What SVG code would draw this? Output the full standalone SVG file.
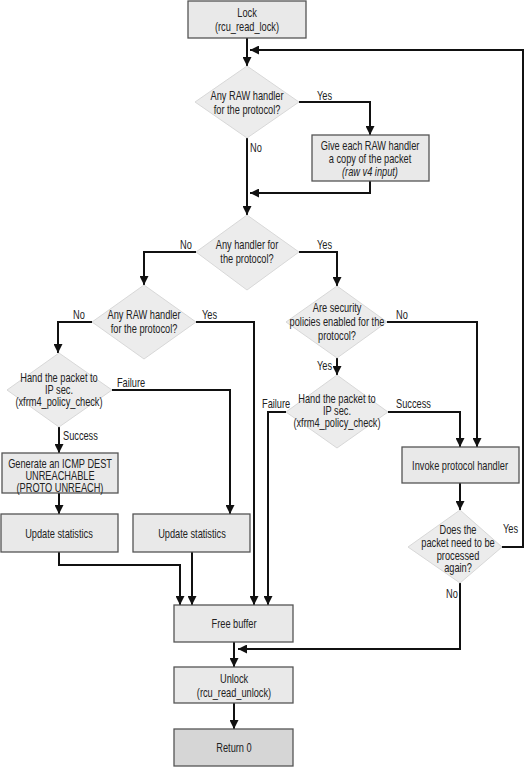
<svg xmlns="http://www.w3.org/2000/svg" width="528" height="768" viewBox="0 0 528 768">
<defs>
<marker id="ah" viewBox="0 0 10 10" refX="10" refY="5" markerWidth="9" markerHeight="9" markerUnits="userSpaceOnUse" orient="auto">
<path d="M0,0 L10,5 L0,10 z" fill="#111"/>
</marker>
<style>
text{font-family:"Liberation Sans",Arial,sans-serif;font-size:12px;fill:#222;text-anchor:middle;transform-box:fill-box;transform-origin:center;transform:scaleX(0.77)}
text.lbl{text-anchor:start;transform-origin:left}
.box{fill:#e9e9e9;stroke:#555;stroke-width:1.3}
.dk{fill:#d6d6d6}
.dia{fill:#ececec;stroke:#d8d8d8;stroke-width:1}
.c{fill:none;stroke:#111;stroke-width:2}
.a{marker-end:url(#ah)}
</style>
</defs>
<rect width="528" height="768" fill="#fff"/>
<g id="connectors">
<path class="c a" d="M247,38 V66"/>
<path class="c a" d="M502,547 H523 V50 H250"/>
<path class="c a" d="M299,102 H370 V135"/>
<path class="c a" d="M247,138 V215"/>
<path class="c a" d="M370,181 V193 H250"/>
<path class="c a" d="M196,252 H144 V285"/>
<path class="c a" d="M299,252 H337 V286"/>
<path class="c a" d="M387,322 H477 V447"/>
<path class="c a" d="M337,358 V375"/>
<path class="c a" d="M92,322 H58 V353"/>
<path class="c a" d="M196,322 H254 V605"/>
<path class="c a" d="M112,390 H230 V514"/>
<path class="c a" d="M59,427 V453"/>
<path class="c a" d="M59,493 V514"/>
<path class="c a" d="M59,552 V565 H180 V605"/>
<path class="c a" d="M192,552 V605"/>
<path class="c a" d="M286,412 H268 V605"/>
<path class="c a" d="M388,412 H460 V447"/>
<path class="c a" d="M460,483 V510"/>
<path class="c a" d="M460,583 V649 H238"/>
<path class="c a" d="M234,642 V667"/>
<path class="c a" d="M234,703 V729"/>
</g>
<g id="labels">
<text class="lbl" x="317" y="100">Yes</text>
<text class="lbl" x="250" y="152">No</text>
<text class="lbl" x="180" y="249">No</text>
<text class="lbl" x="317" y="249">Yes</text>
<text class="lbl" x="73" y="319">No</text>
<text class="lbl" x="202" y="319">Yes</text>
<text class="lbl" x="396" y="319">No</text>
<text class="lbl" x="317" y="370">Yes</text>
<text class="lbl" x="117" y="387">Failure</text>
<text class="lbl" x="63" y="440">Success</text>
<text class="lbl" x="262" y="408">Failure</text>
<text class="lbl" x="396" y="408">Success</text>
<text class="lbl" x="503" y="533">Yes</text>
<text class="lbl" x="446" y="598">No</text>
</g>
<g id="lock"><rect class="box" x="188" y="1" width="118" height="37"/><text x="247" y="17">Lock</text><text x="247" y="31">(rcu_read_lock)</text></g>
<g id="raw1"><polygon class="dia" points="247,66 299,102 247,138 195,102"/><text x="247" y="100">Any RAW handler</text><text x="247" y="114">for the protocol?</text></g>
<g id="copy"><rect class="box" x="312" y="135" width="117" height="46"/><text x="370" y="150">Give each RAW handler</text><text x="370" y="163">a copy of the packet</text><text x="370" y="176" font-style="italic">(raw v4 input)</text></g>
<g id="handler"><polygon class="dia" points="247,215 299,252 247,290 196,252"/><text x="247" y="249">Any handler for</text><text x="247" y="263">the protocol?</text></g>
<g id="raw2"><polygon class="dia" points="144,285 196,322 144,359 92,322"/><text x="144" y="319">Any RAW handler</text><text x="144" y="333">for the protocol?</text></g>
<g id="secpol"><polygon class="dia" points="337,286 387,322 337,358 286,322"/><text x="337" y="312">Are security</text><text x="337" y="326">policies enabled for the</text><text x="337" y="340">protocol?</text></g>
<g id="ipsec1"><polygon class="dia" points="59,353 112,390 59,427 7,390"/><text x="59" y="382">Hand the packet to</text><text x="59" y="394">IP sec.</text><text x="59" y="406">(xfrm4_policy_check)</text></g>
<g id="ipsec2"><polygon class="dia" points="337,375 388,412 337,448 286,412"/><text x="337" y="403">Hand the packet to</text><text x="337" y="415">IP sec.</text><text x="337" y="427">(xfrm4_policy_check)</text></g>
<g id="icmp"><rect class="box" x="2" y="453" width="116" height="40"/><text x="60" y="468">Generate an ICMP DEST</text><text x="60" y="480">UNREACHABLE</text><text x="60" y="492">(PROTO UNREACH)</text></g>
<g id="invoke"><rect class="box" x="402" y="447" width="117" height="36"/><text x="460" y="470">Invoke protocol handler</text></g>
<g id="again"><polygon class="dia" points="460,510 502,547 460,583 408,547"/><text x="458" y="534">Does the</text><text x="458" y="547">packet need to be</text><text x="458" y="560">processed</text><text x="458" y="572">again?</text></g>
<g id="stats1"><rect class="box" x="1" y="514" width="117" height="38"/><text x="59" y="538">Update statistics</text></g>
<g id="stats2"><rect class="box" x="133" y="514" width="117" height="38"/><text x="192" y="538">Update statistics</text></g>
<g id="free"><rect class="box" x="174" y="605" width="119" height="37"/><text x="234" y="628">Free buffer</text></g>
<g id="unlock"><rect class="box" x="174" y="667" width="119" height="36"/><text x="234" y="683">Unlock</text><text x="234" y="697">(rcu_read_unlock)</text></g>
<g id="ret"><rect class="box dk" x="174" y="729" width="119" height="37"/><text x="234" y="752">Return 0</text></g>
</svg>
